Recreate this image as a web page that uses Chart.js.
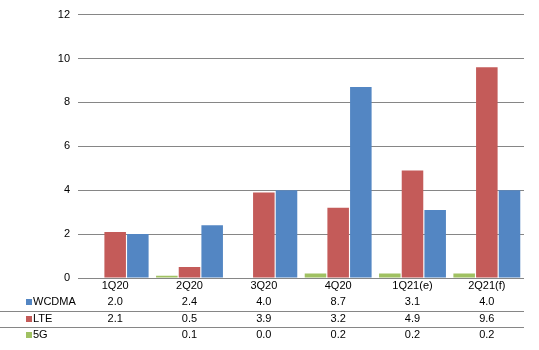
<!DOCTYPE html>
<html>
<head>
<meta charset="utf-8">
<script src="https://cdn.jsdelivr.net/npm/chart.js@4/dist/chart.umd.min.js"></script>
<style>
  html, body { margin: 0; padding: 0; background: #fff; }
  #wrap { width: 539px; height: 350px; }
</style>
</head>
<body>
<div id="wrap"><canvas id="c" width="539" height="350"></canvas></div>
<script>
// Quarterly shipments by technology
const quarters = ['1Q20', '2Q20', '3Q20', '4Q20', '1Q21(e)', '2Q21(f)'];
const wcdma = [2.0, 2.4, 4.0, 8.7, 3.1, 4.0];
const lte = [2.1, 0.5, 3.9, 3.2, 4.9, 9.6];
const fiveG = [null, 0.1, 0.0, 0.2, 0.2, 0.2];
const yTicks = [0, 2, 4, 6, 8, 10, 12];

const COLORS = { wcdma: '#5386C3', lte: '#C45B59', fiveG: '#A0C162' };
const FONT = '"Liberation Sans", Arial, sans-serif';
const GRID = '#868686';

// Data table rows drawn under the category axis
const tableRows = [
  { name: 'WCDMA', values: wcdma, color: COLORS.wcdma, y: 302 },
  { name: 'LTE', values: lte, color: COLORS.lte, y: 319 },
  { name: '5G', values: fiveG, color: COLORS.fiveG, y: 335 }
];

const dataTable = {
  id: 'dataTable',
  afterDraw(chart) {
    const ctx = chart.ctx;
    const xs = chart.scales.x;
    const right = chart.chartArea.right;
    ctx.save();
    ctx.font = '11px ' + FONT;
    ctx.textBaseline = 'middle';
    tableRows.forEach((row, r) => {
      // key square and series name
      ctx.fillStyle = row.color;
      ctx.fillRect(26, row.y - 3, 6, 6);
      ctx.fillStyle = '#000';
      ctx.textAlign = 'left';
      ctx.fillText(row.name, 33, row.y);
      ctx.textAlign = 'center';
      row.values.forEach((v, i) => {
        if (v === null) return;
        ctx.fillText(v.toFixed(1), xs.getPixelForValue(i), row.y);
      });
      if (r < tableRows.length - 1) {
        const ly = Math.round((row.y + tableRows[r + 1].y) / 2) + 0.5;
        ctx.strokeStyle = GRID;
        ctx.lineWidth = 1;
        ctx.beginPath();
        ctx.moveTo(0, ly);
        ctx.lineTo(right, ly);
        ctx.stroke();
      }
    });
    ctx.restore();
  }
};

new Chart(document.getElementById('c'), {
  type: 'bar',
  data: {
    labels: quarters,
    datasets: [
      { label: '5G', data: fiveG, backgroundColor: COLORS.fiveG },
      { label: 'LTE', data: lte, backgroundColor: COLORS.lte },
      { label: 'WCDMA', data: wcdma, backgroundColor: COLORS.wcdma }
    ]
  },
  options: {
    responsive: false,
    animation: false,
    devicePixelRatio: 1,
    layout: { padding: { top: 14, right: 15, bottom: 0, left: 0 } },
    datasets: { bar: { categoryPercentage: 0.915, barPercentage: 0.95 } },
    plugins: { legend: { display: false }, tooltip: { enabled: false } },
    scales: {
      x: {
        grid: { display: false, drawTicks: false, tickLength: 0 },
        border: { display: false },
        ticks: { color: '#000', font: { family: FONT, size: 11 }, padding: 1, maxRotation: 0 },
        afterFit(s) { s.height = 72; }
      },
      y: {
        min: 0,
        max: 12,
        afterBuildTicks(s) { s.ticks = yTicks.map(v => ({ value: v })); },
        grid: { color: GRID, drawTicks: false, lineWidth: 1 },
        border: { display: false },
        ticks: { color: '#000', font: { family: FONT, size: 11 }, padding: 8 },
        afterFit(s) { s.width = 78; }
      }
    }
  },
  plugins: [dataTable]
});
</script>
</body>
</html>
